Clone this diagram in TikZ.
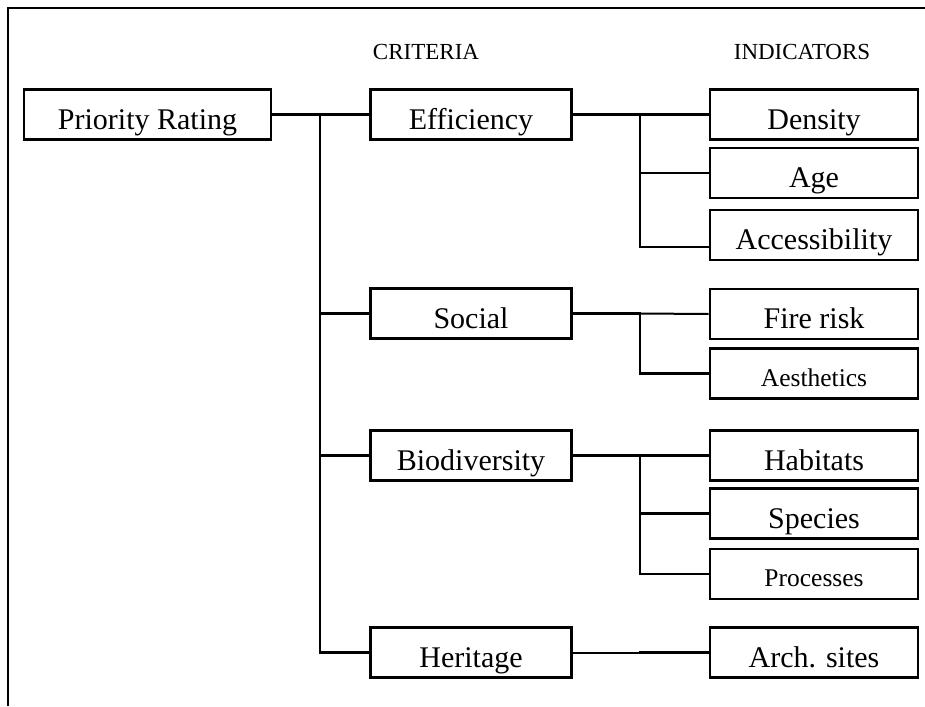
\documentclass[tikz,border=0pt]{standalone}
\usepackage{fontspec}
\setmainfont{Liberation Serif}
\begin{document}
\begin{tikzpicture}[x=1pt,y=-1pt,
  box/.style={draw,line width=2.8pt,inner sep=0pt,minimum height=50pt,text height=29.5pt,text depth=0pt},
  critbox/.style={box,minimum width=201pt},
  indbox/.style={box,minimum width=208pt},
  big/.style={font=\fontsize{30}{35}\selectfont},
  small/.style={font=\fontsize{25.5}{30}\selectfont,text height=25pt},
  head/.style={font=\fontsize{23}{27}\selectfont,anchor=base,inner sep=0pt},
  conn/.style={line width=2.8pt,line cap=rect},
  thinconn/.style={line width=2pt}]
\useasboundingbox (0,0) rectangle (925,706);
\draw[line width=2.8pt] (8,706) -- (8,8) -- (925,8);
% headers
\node[head] (hcrit) at (426,60) {CRITERIA};
\node[head] (hind) at (802,60) {INDICATORS};
% root
\node[box,big,minimum width=247pt] (prio) at (147.5,114.5) {Priority Rating};
% criteria
\node[critbox,big] (eff) at (471,114.5) {Efficiency};
\node[critbox,big] (soc) at (471,313.5) {Social};
\node[critbox,big] (bio) at (471,455.5) {Biodiversity};
\node[critbox,big] (her) at (471,652.5) {Heritage};
% indicators
\node[indbox,big] (dens) at (814,114.5) {Density};
\node[indbox,big] (age) at (814,173) {Age};
\node[indbox,big] (acc) at (814,235) {Accessibility};
\node[indbox,big] (fire) at (814,314) {Fire risk};
\node[indbox,small] (aes) at (814,373.5) {Aesthetics};
\node[indbox,big] (hab) at (814,455.5) {Habitats};
\node[indbox,big] (spe) at (814,513.5) {Species};
\node[indbox,small] (pro) at (814,574) {Processes};
\node[indbox,big] (arch) at (814,652.5) {Arch. sites};
% trunk
\coordinate (t1) at (320,114.5);
\coordinate (t4) at (320,652.5);
\draw[conn] (prio.east) -- (eff.west);
\draw[conn] (t1) -- (t4) -- (her.west);
\draw[conn] (t1 |- soc.west) -- (soc.west);
\draw[conn] (t1 |- bio.west) -- (bio.west);
% efficiency branch
\coordinate (e1) at (640,114.5);
\coordinate (e3) at (640,247);
\draw[conn] (eff.east) -- (dens.west);
\draw[conn] (e1) |- (age.west);
\draw[conn] (e1) -- (e3) -- (e3 -| acc.west);
% social branch
\coordinate (s1) at (640,313.5);
\draw[conn] (soc.east) -- (s1);
\draw[thinconn] (s1) -- (fire.west);
\draw[conn] (s1) |- (aes.west);
% biodiversity branch
\coordinate (b1) at (640,455.5);
\draw[conn] (bio.east) -- (hab.west);
\draw[conn] (b1) |- (spe.west);
\draw[conn] (b1) |- (pro.west);
% heritage branch
\coordinate (h1) at (640,652.5);
\draw[thinconn] (her.east) -- (h1);
\draw[conn] (h1) -- (arch.west);
\end{tikzpicture}
\end{document}
